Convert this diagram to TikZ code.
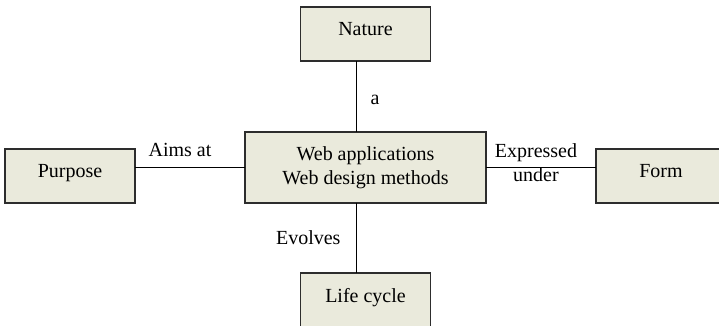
\documentclass[tikz,border=0pt]{standalone}
\usepackage{fontspec}
\setmainfont{Liberation Serif}
\usetikzlibrary{positioning}
\definecolor{boxfill}{RGB}{234,234,220}
\definecolor{boxline}{RGB}{45,45,45}
\tikzstyle{hub} = [rectangle, fill=boxfill, draw=boxline, line width=1.4pt, outer sep=0pt, align=center, font=\fontsize{20}{24}\selectfont]
\tikzstyle{concept} = [hub, minimum width=130pt, minimum height=54pt, text height=13pt, text depth=9pt]
\tikzstyle{rel} = [inner sep=0pt, font=\fontsize{20}{24}\selectfont]
\tikzstyle{link} = [draw=black, line width=1pt]

\begin{document}
\begin{tikzpicture}
\useasboundingbox (-365.5pt,-158.5pt) rectangle (353.5pt,167.5pt);

% Define nodes
\node[hub, minimum width=241pt, minimum height=71pt]      (web) {Web applications\\Web design methods};
\node[concept, above = 71pt of web]                        (nature) {Nature};
\node[concept, below = 70pt of web]                        (life) {Life cycle};
\node[concept, left  = 110pt of web.south west, anchor=south east]  (purpose) {Purpose};
\node[concept, right = 110pt of web.south east, anchor=south west]  (form) {Form};

\coordinate[xshift=-9.5pt] (up) at (web.north);
\coordinate[xshift=-9.5pt] (dn) at (web.south);

% Edges
\draw[link] (up) -- (up |- nature.south) node[rel, midway, right=14pt, yshift=-3pt] {a};
\draw[link] (web.west) -- (web.west -| purpose.east) node[rel, midway, above=10pt, xshift=-10pt] {Aims at};
\draw[link] (web.east) -- (web.east -| form.west) node[rel, midway, align=center, xshift=-5pt, yshift=5pt] {Expressed\\under};
\draw[link] (dn) -- (dn |- life.north) node[rel, midway, left=15pt] {Evolves};
\end{tikzpicture}
\end{document}
